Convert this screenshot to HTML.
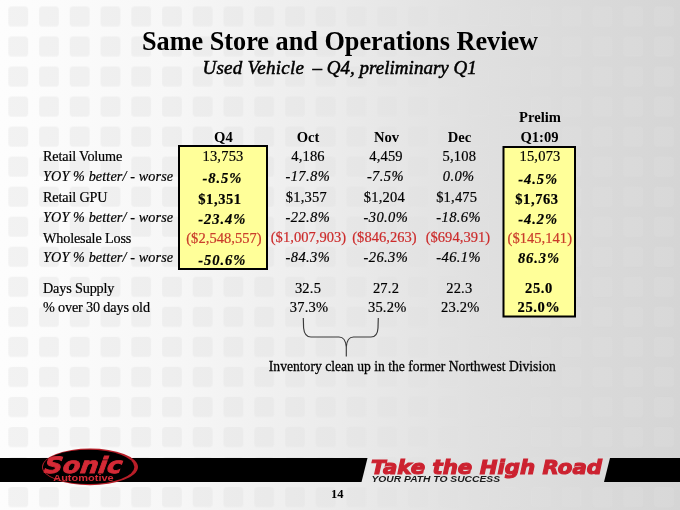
<!DOCTYPE html>
<html><head><meta charset="utf-8">
<style>
html,body{margin:0;padding:0;background:#fff;}
body{width:680px;height:510px;overflow:hidden;}
svg{display:block;}
.t{font-family:"Liberation Serif","Times New Roman",serif;fill:#000;}
.v{font-size:14.5px;text-anchor:middle;letter-spacing:0.2px;}
.v .r{letter-spacing:0.05px;}
.v .i{letter-spacing:0.4px;}
.v .b{letter-spacing:0.6px;}
.v .i.b{letter-spacing:0.95px;}
.v text.ry{fill:#c8402a;stroke:#c8402a;}
.i{font-style:italic;}
.b{font-weight:bold;}
.r{fill:#cc2b2b;}
.lab{font-size:14.2px;letter-spacing:-0.15px;}
.lab .i{letter-spacing:0.12px;}
.lab text,.v text{stroke:#000;stroke-width:0.2px;}
.v text.r{stroke:#cc2b2b;}
</style></head>
<body>
<svg width="680" height="510" viewBox="0 0 680 510">
<defs>
  <linearGradient id="bg" x1="0" y1="0" x2="680" y2="0" gradientUnits="userSpaceOnUse">
    <stop offset="0" stop-color="#fdfdfd"/>
    <stop offset="0.25" stop-color="#f7f7f7"/>
    <stop offset="0.5" stop-color="#ebebeb"/>
    <stop offset="0.7" stop-color="#e0e0e0"/>
    <stop offset="1" stop-color="#d5d5d5"/>
  </linearGradient>
  <linearGradient id="sq" x1="0" y1="0" x2="680" y2="0" gradientUnits="userSpaceOnUse">
    <stop offset="0" stop-color="#f2f2f2"/>
    <stop offset="0.25" stop-color="#eeeeee"/>
    <stop offset="0.5" stop-color="#e7e7e7"/>
    <stop offset="0.7" stop-color="#e0e0e0"/>
    <stop offset="1" stop-color="#d8d8d8"/>
  </linearGradient>
  <pattern id="grid" x="8.3" y="6.4" width="30.75" height="30.04" patternUnits="userSpaceOnUse">
    <rect x="0" y="0" width="19.8" height="20.2" rx="3.5" ry="3.5" fill="#fff"/>
  </pattern>
  <mask id="gm" maskUnits="userSpaceOnUse" x="0" y="0" width="680" height="510"><rect width="680" height="510" fill="url(#grid)"/></mask>
</defs>
<rect width="680" height="510" fill="url(#bg)"/>
<rect width="680" height="510" fill="url(#sq)" mask="url(#gm)"/>

<!-- Title -->
<text class="t b" x="340" y="49" font-size="26.25" text-anchor="middle" dy="1.1">Same Store and Operations Review</text>
<text class="t i" x="202.5" y="73.5" font-size="19" letter-spacing="0.25" stroke="#000" stroke-width="0.5">Used Vehicle</text>
<text class="t i" x="312.5" y="73.5" font-size="19" letter-spacing="0.02" stroke="#000" stroke-width="0.5">– Q4, preliminary Q1</text>

<!-- boxes -->
<rect x="179" y="146" width="88" height="123" fill="#ffff99" stroke="#000" stroke-width="2"/>
<rect x="503.5" y="147" width="71.5" height="169.5" fill="#ffff99" stroke="#000" stroke-width="2"/>

<!-- headers -->
<g class="t b" font-size="14.6" text-anchor="middle">
  <text x="540" y="122.3">Prelim</text>
  <text x="223.4" y="141.6">Q4</text>
  <text x="308" y="141.6">Oct</text>
  <text x="386.5" y="141.6">Nov</text>
  <text x="459.5" y="141.6">Dec</text>
  <text x="539.5" y="141.6">Q1:09</text>
</g>

<!-- labels -->
<g class="t lab">
  <text x="43" y="160.8">Retail Volume</text>
  <text x="43" y="181.2" class="i">YOY % better/ - worse</text>
  <text x="43" y="202.2">Retail GPU</text>
  <text x="43" y="222" class="i">YOY % better/ - worse</text>
  <text x="43" y="242.5">Wholesale Loss</text>
  <text x="43" y="262.4" class="i">YOY % better/ - worse</text>
  <text x="43" y="292.9">Days Supply</text>
  <text x="43" y="311.6">% over 30 days old</text>
</g>

<!-- Q4 column -->
<g class="t v">
  <text x="223" y="160.6">13,753</text>
  <text x="222.4" y="183" class="i b">-8.5%</text>
  <text x="220" y="204" class="b">$1,351</text>
  <text x="222.2" y="224" class="i b">-23.4%</text>
  <text x="224" y="243.2" class="r ry">($2,548,557)</text>
  <text x="222.2" y="264.6" class="i b">-50.6%</text>
</g>
<!-- Oct -->
<g class="t v">
  <text x="308" y="160.6">4,186</text>
  <text x="307.8" y="181.3" class="i">-17.8%</text>
  <text x="306.4" y="202">$1,357</text>
  <text x="307.9" y="222" class="i">-22.8%</text>
  <text x="308.5" y="242.2" class="r">($1,007,903)</text>
  <text x="307.9" y="262.3" class="i">-84.3%</text>
  <text x="308" y="293.1">32.5</text>
  <text x="309" y="311.6">37.3%</text>
</g>
<!-- Nov -->
<g class="t v">
  <text x="386" y="160.6">4,459</text>
  <text x="385.4" y="181" class="i">-7.5%</text>
  <text x="384.4" y="202">$1,204</text>
  <text x="385.9" y="222" class="i">-30.0%</text>
  <text x="384.5" y="242.2" class="r">($846,263)</text>
  <text x="385.9" y="262.3" class="i">-26.3%</text>
  <text x="386" y="293.1">27.2</text>
  <text x="387.2" y="311.6">35.2%</text>
</g>
<!-- Dec -->
<g class="t v">
  <text x="459.3" y="160.6">5,108</text>
  <text x="458.7" y="181" class="i">0.0%</text>
  <text x="456.7" y="202">$1,475</text>
  <text x="458.6" y="222" class="i">-18.6%</text>
  <text x="457.9" y="242.2" class="r">($694,391)</text>
  <text x="458.6" y="262.3" class="i">-46.1%</text>
  <text x="459.3" y="293.1">22.3</text>
  <text x="460.3" y="311.6">23.2%</text>
</g>
<!-- Q1 -->
<g class="t v">
  <text x="540" y="160.6">15,073</text>
  <text x="538.2" y="183.6" class="i b">-4.5%</text>
  <text x="537" y="203.8" class="b">$1,763</text>
  <text x="538.2" y="223.7" class="i b">-4.2%</text>
  <text x="539.8" y="242.8" class="r ry">($145,141)</text>
  <text x="539" y="263.4" class="i b">86.3%</text>
  <text x="539" y="293" class="b">25.0</text>
  <text x="539" y="312" class="b">25.0%</text>
</g>

<!-- brace -->
<path d="M303.3 318 L303.6 328 Q304.5 337 311 337 L339 337 Q345.5 337 346.3 347 L346.3 356.5 M346.3 347 Q347 337 353.5 337 L371 337 Q377.5 337 378 328 L378.3 318" fill="none" stroke="#3a3a3a" stroke-width="1.15"/>
<text class="t" x="268.8" y="370.6" font-size="15" stroke="#000" stroke-width="0.3" textLength="287" lengthAdjust="spacingAndGlyphs">Inventory clean up  in the former Northwest Division</text>

<!-- footer band -->
<polygon points="0,458 367.5,458 361.5,482 0,482" fill="#000"/>
<polygon points="610,458 680,458 680,482 604,482" fill="#000"/>
<!-- Sonic logo -->
<ellipse cx="90" cy="466.9" rx="48" ry="18.3" fill="#b81e28"/>
<ellipse cx="88.6" cy="466.9" rx="45.8" ry="17.2" fill="#000"/>
<text transform="translate(43.5 473.2) skewX(-8)" x="0" y="0" font-family="DejaVu Sans, sans-serif" font-weight="bold" font-style="italic" font-size="22.5" fill="#d42a36" stroke="#d42a36" stroke-width="0.8" textLength="78" lengthAdjust="spacingAndGlyphs">Sonic</text>
<text x="53.2" y="480.8" font-family="Liberation Sans, sans-serif" font-weight="bold" font-size="8.4" fill="#d42a36" textLength="60.5" lengthAdjust="spacingAndGlyphs">Automotive</text>
<!-- Take the high road -->
<text x="371" y="473.5" font-family="DejaVu Sans, sans-serif" font-weight="bold" font-style="italic" font-size="19" fill="#cc2230" stroke="#cc2230" stroke-width="1.1" textLength="231" lengthAdjust="spacingAndGlyphs">Take the High Road</text>
<text x="371.5" y="481.6" font-family="Liberation Sans, sans-serif" font-weight="bold" font-style="italic" font-size="8.6" fill="#1a1a1a" textLength="128.5" lengthAdjust="spacingAndGlyphs">YOUR PATH TO SUCCESS</text>

<text class="t b" x="337.3" y="497.9" font-size="12.5" text-anchor="middle">14</text>
</svg>
</body></html>
